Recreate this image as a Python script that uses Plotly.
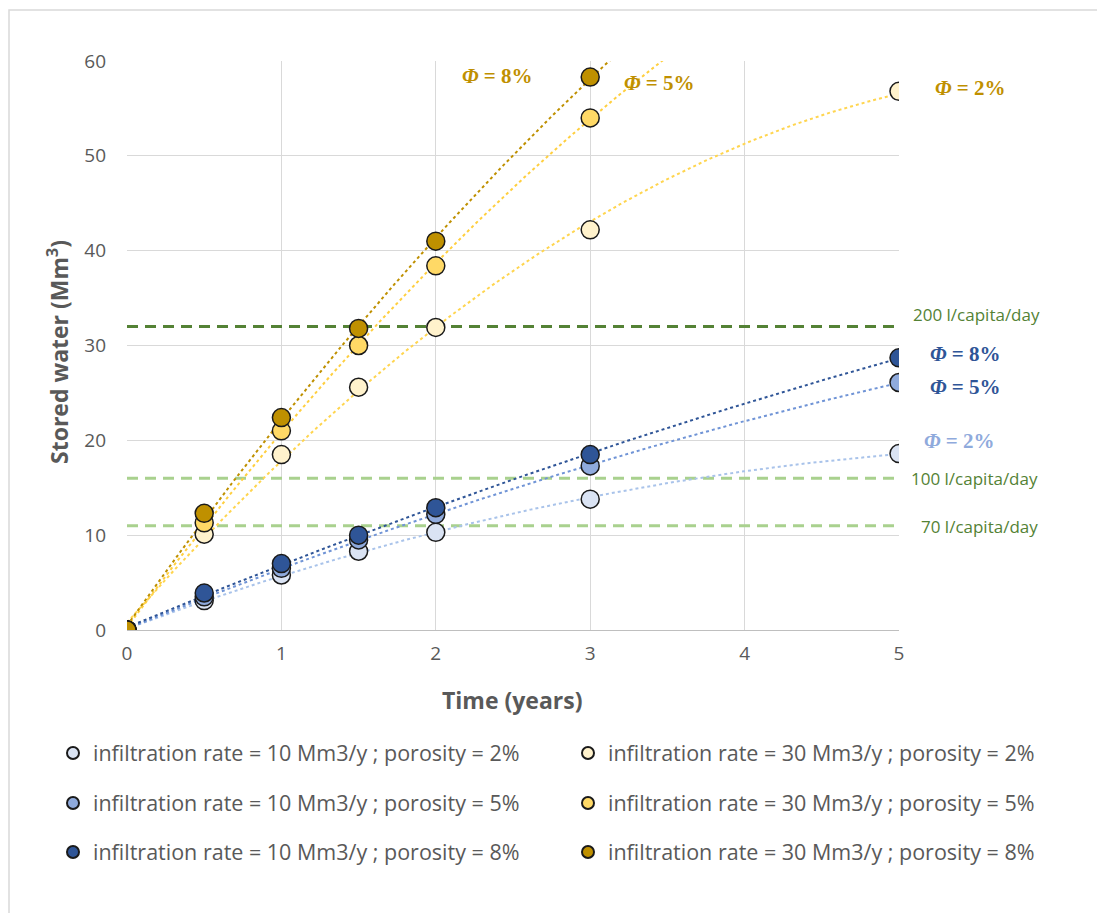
import numpy as np
import plotly.graph_objects as go

# ---- data ----
time_years = [0, 0.5, 1, 1.5, 2, 3, 5]
time_short = [0, 0.5, 1, 1.5, 2, 3]

inf10_phi2 = [0, 3.1, 5.8, 8.3, 10.3, 13.8, 18.6]
inf10_phi5 = [0, 3.5, 6.5, 9.5, 12.2, 17.3, 26.1]
inf10_phi8 = [0, 3.9, 7.0, 10.0, 12.9, 18.5, 28.7]

inf30_phi2 = [0, 10.1, 18.5, 25.6, 31.9, 42.2, 56.8]
inf30_phi5 = [0, 11.3, 21.0, 30.0, 38.4, 54.0]
inf30_phi8 = [0, 12.3, 22.4, 31.8, 41.0, 58.3]

demand_labels = ["200 l/capita/day", "100 l/capita/day", "70 l/capita/day"]
demand_values = [32, 16, 11]

legend_names = [
    "infiltration rate = 10 Mm3/y ; porosity = 2%",
    "infiltration rate = 10 Mm3/y ; porosity = 5%",
    "infiltration rate = 10 Mm3/y ; porosity = 8%",
    "infiltration rate = 30 Mm3/y ; porosity = 2%",
    "infiltration rate = 30 Mm3/y ; porosity = 5%",
    "infiltration rate = 30 Mm3/y ; porosity = 8%",
]
x_ticks = [0, 1, 2, 3, 4, 5]
y_ticks = [0, 10, 20, 30, 40, 50, 60]
X_MAX, Y_MAX = 5, 60

# ---- layout geometry (page has an 8px body offset) ----
W, H = 1097, 905
L, T = 119, 53
PW, PH = 772, 569
R = W - L - PW
B = H - T - PH
GRAY = "#595959"

# (x, y, name, fill, trendline colour, legend id, legend column px, legend row px)
series = [
    (time_years, inf10_phi2, legend_names[0], "#DAE3F3", "#A9C3EA", "legend",  53, 753),
    (time_years, inf10_phi5, legend_names[1], "#8FAADC", "#7094D6", "legend2", 53, 803),
    (time_years, inf10_phi8, legend_names[2], "#2F5597", "#2F5597", "legend3", 53, 852),
    (time_years, inf30_phi2, legend_names[3], "#FFF2CC", "#FFD54F", "legend4", 568, 753),
    (time_short, inf30_phi5, legend_names[4], "#FFD966", "#FFCF3F", "legend5", 568, 803),
    (time_short, inf30_phi8, legend_names[5], "#BF9000", "#BF9000", "legend6", 568, 852),
]

fig = go.Figure()

# demand lines
demand_colors = ["#548235", "#A9D18E", "#A9D18E"]
for v, c in zip(demand_values, demand_colors):
    fig.add_trace(go.Scatter(x=[x_ticks[0], x_ticks[-1]], y=[v, v], mode="lines",
                             line=dict(color=c, width=3, dash="11px,7px"),
                             showlegend=False, hoverinfo="skip"))

# trendlines (2nd order polynomial fit, like the spreadsheet trendline)
xs = np.linspace(0, 5, 200)
for x, y, name, fill, lc, lg, lx, ly in series:
    coef = np.polyfit(x, y, 2)
    fig.add_trace(go.Scatter(x=xs, y=np.polyval(coef, xs), mode="lines",
                             line=dict(color=lc, width=2, dash="dot"),
                             showlegend=False, hoverinfo="skip"))

# markers
for x, y, name, fill, lc, lg, lx, ly in series:
    fig.add_trace(go.Scatter(x=x, y=y, mode="markers", name=name, legend=lg,
                             marker=dict(size=18, color=fill,
                                         line=dict(color="#1a1a1a", width=1.5))))

def px2x(p):   # screen px -> paper x
    return (p - 127) / PW

def py2y(p):   # screen px -> paper y
    return (630 - p) / PH

annos = []
phi_specs = [
    (2.40, 58.4, "8%", "#BF9000"),
    (3.45, 57.7, "5%", "#BF9000"),
    (5.46, 57.2, "2%", "#BF9000"),
    (5.43, 29.1, "8%", "#2F5597"),
    (5.43, 25.6, "5%", "#2F5597"),
    (5.39, 19.9, "2%", "#8FAADC"),
]
for ax, ay, t, c in phi_specs:
    annos.append(dict(x=ax / X_MAX, y=ay / Y_MAX, xref="paper", yref="paper",
                      showarrow=False, xanchor="center", yanchor="middle",
                      text="<b><i>Φ</i> = " + t + "</b>",
                      font=dict(family="Liberation Serif", size=21, color=c)))
label_pos = [(5.50, 33.3), (5.49, 16.0), (5.52, 10.9)]
for (ax, ay), t in zip(label_pos, demand_labels):
    annos.append(dict(x=ax / X_MAX, y=ay / Y_MAX, xref="paper", yref="paper",
                      showarrow=False, xanchor="center", yanchor="middle", text=t,
                      font=dict(family="Open Sans", size=17, color="#548235")))
annos.append(dict(x=px2x(512), y=py2y(700), xref="paper", yref="paper", showarrow=False,
                  xanchor="center", yanchor="middle",
                  text="<b>Time (years)</b>",
                  font=dict(family="Open Sans", size=23, color=GRAY)))
annos.append(dict(x=px2x(58), y=py2y(352), xref="paper", yref="paper", showarrow=False,
                  xanchor="center", yanchor="middle",
                  text="<b>Stored water (Mm<sup>3</sup>)</b>", textangle=-90,
                  font=dict(family="Open Sans", size=23, color=GRAY)))

legends = {}
for x, y, name, fill, lc, lg, lx, ly in series:
    legends[lg] = dict(orientation="h", xanchor="left", yanchor="middle",
                       x=px2x(lx), y=py2y(ly),
                       font=dict(family="Open Sans", size=21.5, color=GRAY),
                       itemsizing="constant", bgcolor="rgba(0,0,0,0)")

fig.update_layout(
    width=W, height=H,
    margin=dict(l=L, r=R, t=T, b=B),
    paper_bgcolor="white", plot_bgcolor="white",
    annotations=annos,
    shapes=[dict(type="rect", xref="paper", yref="paper",
                 x0=px2x(9), x1=px2x(1200), y0=py2y(1000), y1=py2y(10),
                 line=dict(color="#D9D9D9", width=1.5), layer="below")],
    **legends,
)
fig.update_xaxes(range=[0, X_MAX], tickvals=x_ticks, showgrid=True, gridcolor="#D9D9D9",
                 gridwidth=1, zeroline=False, showline=True, linecolor="#BFBFBF",
                 ticks="", ticklabelstandoff=6,
                 tickfont=dict(family="Open Sans", size=19, color=GRAY))
fig.update_yaxes(range=[0, Y_MAX], tickvals=y_ticks, showgrid=True, gridcolor="#D9D9D9",
                 gridwidth=1, zeroline=False, showline=False,
                 ticks="", ticklabelstandoff=20,
                 tickfont=dict(family="Open Sans", size=19, color=GRAY))

fig.write_html("out.html")
